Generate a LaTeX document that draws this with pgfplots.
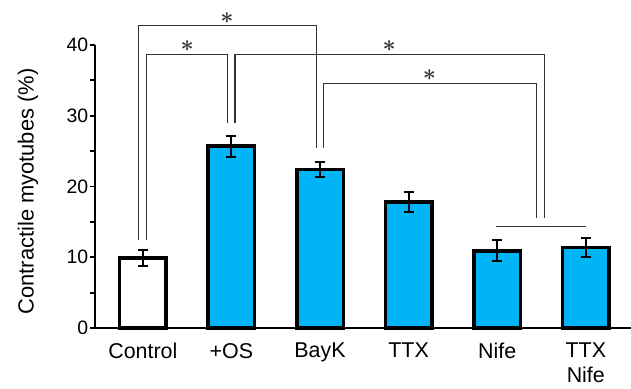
\documentclass[border=0pt]{standalone}
\usepackage{graphicx}
\usepackage{pgfplots}
\pgfplotsset{compat=1.18}
\usepackage{fontspec}
\setmainfont{Liberation Sans}
\definecolor{barblue}{RGB}{0,180,245}
\definecolor{brk}{RGB}{50,50,50}
\newcommand{\sigstar}{\scalebox{2.3}{\boldmath$\ast$}}
\begin{document}
\begin{tikzpicture}
\begin{axis}[
  scale only axis, width=536bp, height=283bp,
  xmin=-0.54, xmax=5.51, ymin=0, ymax=40,
  axis x line*=bottom, axis y line*=left,
  axis line style={line width=2.2bp, black},
  xtick={0,1,2,3,4,5},
  xticklabels={Control,+OS,BayK,TTX,Nife,TTX\\[1bp]Nife},
  xticklabel style={align=center, inner sep=0pt, yshift=-10bp, font=\fontsize{21.5}{24}\selectfont},
  x tick style={draw=none},
  ytick={0,10,20,30,40}, minor ytick={5,15,25,35},
  tick align=outside,
  major tick length=5bp, minor tick length=5bp,
  y tick style={line width=1.8bp, black},
  yticklabel style={inner xsep=1.5bp, font=\fontsize{19.5}{22}\selectfont},
  /pgf/number format/assume math mode=true,
  ylabel={Contractile myotubes (\%)},
  ylabel style={at={(axis description cs:0,0.5)}, anchor=center, yshift=67bp, xshift=-5bp, font=\fontsize{22}{24}\selectfont},
  clip=false,
]
\addplot[ybar, bar shift=0pt, bar width=46.5bp, fill=white, draw=black, line width=3.5bp,
  error bars/.cd, y dir=both, y explicit,
  error bar style={line width=2bp, black},
  error mark options={rotate=90, mark size=5bp, line width=2bp, black}]
  coordinates {(0,9.9) +- (0,1.1)};
\addplot[ybar, bar shift=0pt, bar width=46.5bp, fill=barblue, draw=black, line width=3.5bp,
  error bars/.cd, y dir=both, y explicit,
  error bar style={line width=2bp, black},
  error mark options={rotate=90, mark size=5bp, line width=2bp, black}]
  coordinates {
  (1,25.7) +- (0,1.5)
  (2,22.4) +- (0,1.1)
  (3,17.8) +- (0,1.45)
  (4,10.9) +- (0,1.5)
  (5,11.4) +- (0,1.3)
  };
% significance brackets
\addplot[brk, line width=1.3bp, mark=none] coordinates {(-0.05,12.4) (-0.05,42.8) (1.96,42.8) (1.96,25.4)};
\addplot[brk, line width=1.3bp, mark=none] coordinates {(0.044,12.4) (0.044,38.7) (0.953,38.7) (0.953,29.0)};
\addplot[brk, line width=1.3bp, mark=none] coordinates {(1.04,29.0) (1.04,38.7) (4.53,38.7) (4.53,15.6)};
\addplot[brk, line width=1.3bp, mark=none] coordinates {(2.04,25.4) (2.04,34.6) (4.44,34.6) (4.44,15.6)};
\addplot[brk, line width=1.3bp, mark=none] coordinates {(3.99,14.3) (5.0,14.3)};
\node[inner sep=0pt, text=brk] at (axis cs:0.95,43.85) {\sigstar};
\node[inner sep=0pt, text=brk] at (axis cs:0.50,39.8) {\sigstar};
\node[inner sep=0pt, text=brk] at (axis cs:2.78,39.8) {\sigstar};
\node[inner sep=0pt, text=brk] at (axis cs:3.235,35.7) {\sigstar};
\end{axis}
\path (current axis.south west) ++(-95bp,-61bp) coordinate (bbA);
\path (current axis.north east) ++(0bp,45bp) coordinate (bbB);
\pgfresetboundingbox
\path (bbA) rectangle (bbB);
\end{tikzpicture}
\end{document}
